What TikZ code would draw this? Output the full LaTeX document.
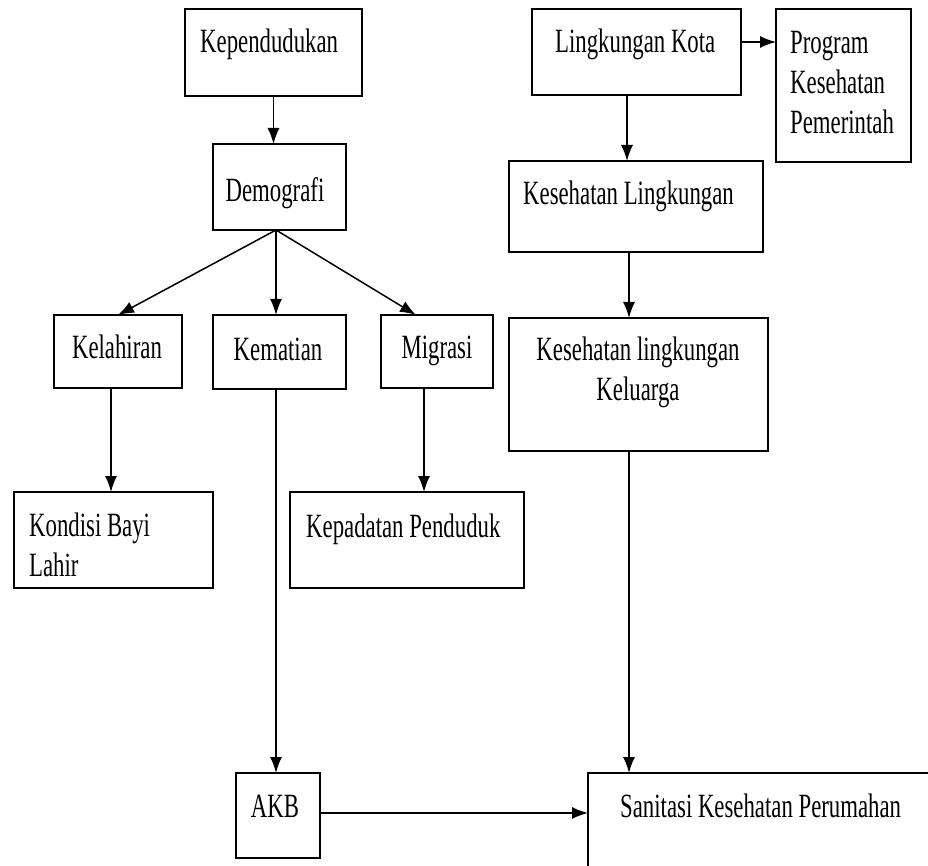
\documentclass[tikz,border=0pt]{standalone}
\usepackage{fontspec}
\setmainfont[FakeStretch=0.67]{Liberation Serif}
\usetikzlibrary{arrows.meta}
\newcommand{\kotak}[5]{%%
  %% A box given by its left, top, right and bottom edges.
  \node[boxStyle,minimum width={#4-#2},minimum height={#5-#3}] (#1) at ({(#2+#4)/2},{(#3+#5)/2}) {};
}
\newcommand{\teks}[5][]{%%
  %% A text placed on the baseline of its last line.
  \node[textStyle,#1] (#2) at (#3,#4) {#5};
}

\begin{document}
\begin{tikzpicture}[%%
  x=1pt,y=-1pt,%%
  boxStyle/.style={draw,line width=1.6pt,inner sep=0pt,outer sep=0pt},%%
  textStyle/.style={anchor=base west,inner sep=0pt,align=left,font=\fontsize{34}{40}\selectfont},%%
  arrowStyle/.style={-{Latex[length=16pt,width=12pt]},line width=1.5pt},%%
]
\useasboundingbox (0,0) rectangle (928,866);
%%
%% The boxes.
\kotak{kependudukan}{185}{9}{362}{96}
\kotak{demografi}{213}{144}{346}{230}
\kotak{kota}{532}{9}{741}{95}
\kotak{program}{776}{9}{911}{162}
\kotak{keslingk}{509}{161}{763}{252}
\kotak{kelahiran}{54}{315}{182}{388}
\kotak{kematian}{213}{315}{346}{389}
\kotak{migrasi}{381}{315}{493}{388}
\kotak{keluarga}{509}{318}{768}{451}
\kotak{kondisi}{14}{492}{213}{588}
\kotak{kepadatan}{290}{492}{524}{588}
\kotak{akb}{236}{773}{320}{858}
\kotak{sanitasi}{588}{773}{940}{880}
%%
%% The texts.
\teks{tKependudukan}{200}{53}{Kependudukan}
\teks[anchor=base]{tDemografi}{275}{202}{Demografi}
\teks{tKota}{555}{53}{Lingkungan Kota}
\teks{tProgram}{790}{134}{Program\\Kesehatan\\Pemerintah}
\teks{tKeslingk}{523}{205}{Kesehatan Lingkungan}
\teks[anchor=base]{tKelahiran}{117}{358}{Kelahiran}
\teks[anchor=base]{tKematian}{278}{360}{Kematian}
\teks[anchor=base]{tMigrasi}{437}{358}{Migrasi}
\teks[anchor=base,align=center]{tKeluarga}{638}{400}{Kesehatan lingkungan\\Keluarga}
\teks{tKondisi}{29}{576}{Kondisi Bayi\\Lahir}
\teks{tKepadatan}{306}{537}{Kepadatan Penduduk}
\teks[anchor=base]{tAkb}{275}{817}{AKB}
\teks{tSanitasi}{620}{817}{Sanitasi Kesehatan Perumahan}
%%
%% The branching point below Demografi.
\coordinate (cabang) at ([xshift=-3.5]demografi.south);
%%
%% The connectors.
\draw[arrowStyle] (kependudukan.south) -- (kependudukan.south |- demografi.north);
\draw[arrowStyle] (cabang) -- (kelahiran.north);
\draw[arrowStyle] (cabang) -- ([xshift=-3.5]kematian.north);
\draw[arrowStyle] (cabang) -- ([xshift=-21]migrasi.north);
\draw[arrowStyle] ([xshift=-7]kelahiran.south) -- ([xshift=-7]kelahiran.south |- kondisi.north);
\draw[arrowStyle] ([xshift=-13]migrasi.south) -- ([xshift=-13]migrasi.south |- kepadatan.north);
\draw[arrowStyle] ([xshift=-3.5]kematian.south) -- ([xshift=-3.5]kematian.south |- akb.north);
\draw[arrowStyle] ([yshift=2.5]akb.east) -- ([yshift=2.5]akb.east -| sanitasi.west);
\draw[arrowStyle] ([yshift=10]kota.east) -- ([yshift=10]kota.east -| program.west);
\draw[arrowStyle] ([xshift=-9.5]kota.south) -- ([xshift=-9.5]kota.south |- keslingk.north);
\draw[arrowStyle] ([xshift=-7]keslingk.south) -- ([xshift=-7]keslingk.south |- keluarga.north);
\draw[arrowStyle] ([xshift=-9.5]keluarga.south) -- ([xshift=-9.5]keluarga.south |- sanitasi.north);
\end{tikzpicture}
\end{document}
